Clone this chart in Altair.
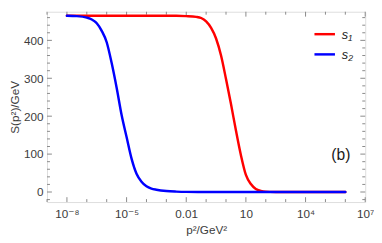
import altair as alt
import pandas as pd

# ---------------- data ----------------
# abscissae given as log10(p^2 / GeV^2)
s1_logx = [-8, -6, -4, -2.5, -2, -1.5, -1.25, -1.0, -0.75, -0.5, -0.25, 0.0, 0.25, 0.5, 0.75, 1.0, 1.25, 1.5, 1.75, 2.0, 2.5, 3, 4, 5, 6]
s1_y = [465, 465, 465, 464.8, 464, 462, 459, 450, 433, 405, 360, 298, 232, 162, 97, 45, 21, 8, 3, 1, 0.2, 0, 0, 0, 0]

s2_logx = [-8, -7.5, -7, -6.75, -6.5, -6.25, -6.0, -5.75, -5.5, -5.25, -5.0, -4.75, -4.5, -4.25, -4.0, -3.75, -3.5, -3.0, -2.5, -2, -1, 0, 2, 4, 6]
s2_y = [465, 464, 460, 455, 445, 425, 395, 340, 275, 203, 145, 88, 48, 27, 15, 9, 6, 2.5, 1, 0.3, 0, 0, 0, 0, 0]

series_names = ["s\u2081", "s\u2082"]
series_colors = ["#ff0000", "#0000ff"]

x_major = [1e-8, 1e-5, 1e-2, 1e1, 1e4, 1e7]
x_major_labels = ["10\u207b\u2078", "10\u207b\u2075", "0.01", "10", "10\u2074", "10\u2077"]
x_minor = [1e-9, 1e-7, 1e-6, 1e-4, 1e-3, 1e-1, 1e0, 1e2, 1e3, 1e5, 1e6]
y_major = [0, 100, 200, 300, 400]
y_minor = [-20, 20, 40, 60, 80, 120, 140, 160, 180, 220, 240, 260, 280, 320, 340, 360, 380, 420, 440, 460]

panel_tag = "(b)"

# ---------------- layout / style ----------------
W, H = 326, 195
FONT = "Liberation Sans, Arial, DejaVu Sans"
FRAME = "#888888"
TXT = "#3c3c3c"

xscale = alt.Scale(type="log", domain=[1e-9, 1e7], nice=False)
yscale = alt.Scale(domain=[-26.5, 475.5], nice=False, zero=False)

label_expr = " : ".join(
    [f"datum.value == {v:g} ? '{l}'" for v, l in zip(x_major, x_major_labels)]
) + " : ''"

xaxis = alt.Axis(values=x_major, labelExpr=label_expr, ticks=False, domain=False,
                 grid=False, labelPadding=7, titlePadding=5, title="p\u00b2/GeV\u00b2",
                 labelFontSize=12, titleFontSize=12, titleFontWeight="normal",
                 labelFont=FONT, titleFont=FONT, labelColor=TXT, titleColor=TXT,
                 labelFlush=False, labelOverlap=False)
yaxis = alt.Axis(values=y_major, ticks=False, domain=False, grid=False,
                 labelPadding=4, titlePadding=2, title="S(p\u00b2)/GeV",
                 labelFontSize=12, titleFontSize=12, titleFontWeight="normal",
                 labelFont=FONT, titleFont=FONT, labelColor=TXT, titleColor=TXT)

df = pd.concat([
    pd.DataFrame({"p2": [10.0 ** e for e in s1_logx], "S": s1_y, "series": series_names[0]}),
    pd.DataFrame({"p2": [10.0 ** e for e in s2_logx], "S": s2_y, "series": series_names[1]}),
])

base_line = alt.Chart(df).mark_line(strokeWidth=2.5, interpolate="monotone", strokeCap="round")

lines = []
for name, col in zip(series_names, series_colors):
    lines.append(
        base_line.transform_filter(alt.datum.series == name).encode(
            x=alt.X("p2:Q", scale=xscale, axis=xaxis),
            y=alt.Y("S:Q", scale=yscale, axis=yaxis),
            color=alt.value(col),
        )
    )

def xticks(vals, length):
    d = pd.DataFrame({"p2": vals})
    bottom = alt.Chart(d).mark_rule(color=FRAME, strokeWidth=1).encode(
        x=alt.X("p2:Q", scale=xscale, axis=xaxis), y=alt.value(H), y2=alt.value(H - length))
    top = alt.Chart(d).mark_rule(color=FRAME, strokeWidth=1).encode(
        x=alt.X("p2:Q", scale=xscale, axis=xaxis), y=alt.value(0), y2=alt.value(length))
    return [bottom, top]

def yticks(vals, length):
    d = pd.DataFrame({"S": vals})
    left = alt.Chart(d).mark_rule(color=FRAME, strokeWidth=1).encode(
        y=alt.Y("S:Q", scale=yscale, axis=yaxis), x=alt.value(0), x2=alt.value(length))
    right = alt.Chart(d).mark_rule(color=FRAME, strokeWidth=1).encode(
        y=alt.Y("S:Q", scale=yscale, axis=yaxis), x=alt.value(W), x2=alt.value(W - length))
    return [left, right]

ticks = xticks(x_major, 5) + xticks(x_minor, 3) + yticks(y_major, 5) + yticks(y_minor, 3)

one = pd.DataFrame({"a": [0]})
legend = []
for i, (name, col) in enumerate(zip(series_names, series_colors)):
    yy = 23 + 20.7 * i
    legend.append(alt.Chart(one).mark_rule(strokeWidth=2.5).encode(
        x=alt.value(274), x2=alt.value(295), y=alt.value(yy), color=alt.value(col)))
    legend.append(alt.Chart(one).mark_text(align="left", baseline="middle", fontSize=13,
                                           fontStyle="italic", font=FONT, color="#1a1a1a").encode(
        x=alt.value(302), y=alt.value(yy + 1), text=alt.value(name)))

tag = alt.Chart(one).mark_text(align="center", baseline="middle", fontSize=16, font=FONT,
                               color="#1a1a1a").encode(
    x=alt.value(301), y=alt.value(147), text=alt.value(panel_tag))

chart = alt.layer(*ticks, *lines, *legend, tag).properties(
    width=W, height=H, padding={"left": 0, "top": 0, "right": 0, "bottom": 0}
).configure_view(stroke=FRAME, strokeWidth=1).configure(background="white")

chart.save("out.html", embed_options={"renderer": "svg", "actions": False})
